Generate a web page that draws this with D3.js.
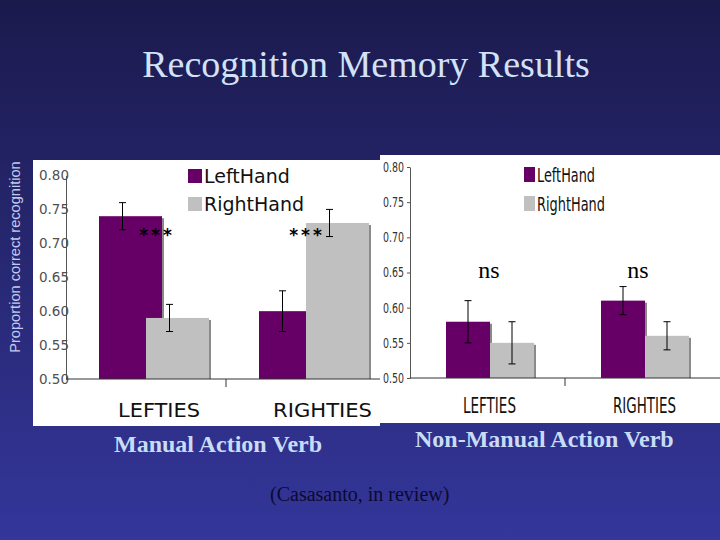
<!DOCTYPE html>
<html>
<head>
<meta charset="utf-8">
<script src="https://cdn.jsdelivr.net/npm/d3@7"></script>
<style>
  html, body { margin: 0; padding: 0; background: #1b1b4f; }
  svg { display: block; }
</style>
</head>
<body>
<script>
// data
const groups = ["LEFTIES", "RIGHTIES"];
const hands = ["LeftHand", "RightHand"];
const yTicks = [0.50, 0.55, 0.60, 0.65, 0.70, 0.75, 0.80];

// manual action verbs (left panel)
const manualLeftHand = [0.74, 0.60];
const manualRightHand = [0.59, 0.73];
const manualLeftErr = [0.02, 0.03];
const manualRightErr = [0.02, 0.02];
const manualMarks = ["***", "***"];

// non-manual action verbs (right panel)
const nonManualLeftHand = [0.58, 0.61];
const nonManualRightHand = [0.55, 0.56];
const nonManualLeftErr = [0.03, 0.02];
const nonManualRightErr = [0.03, 0.02];
const nonManualMarks = ["ns", "ns"];

const colors = { LeftHand: "#660066", RightHand: "#c0c0c0" };

const width = 720, height = 540;
const svg = d3.select("body").append("svg")
  .attr("width", width).attr("height", height);

const grad = svg.append("defs").append("linearGradient")
  .attr("id", "bg").attr("x1", 0).attr("y1", 0).attr("x2", 0).attr("y2", 1);
grad.append("stop").attr("offset", "0%").attr("stop-color", "#1b1a4d");
grad.append("stop").attr("offset", "100%").attr("stop-color", "#34369a");
svg.append("rect").attr("width", width).attr("height", height).attr("fill", "url(#bg)");

// title
svg.append("text")
  .attr("x", 366).attr("y", 77)
  .attr("text-anchor", "middle")
  .attr("font-family", "Liberation Serif, Times New Roman, serif")
  .attr("font-size", 38)
  .attr("fill", "#d2e2f8")
  .text("Recognition Memory Results");

// y label
svg.append("text")
  .attr("transform", "translate(20,257) rotate(-90)")
  .attr("text-anchor", "middle")
  .attr("font-family", "Liberation Sans, Arial, sans-serif")
  .attr("font-size", 14.6)
  .attr("fill", "#c4caf0")
  .text("Proportion correct recognition");

function rows(lh, rh, le, re) {
  return groups.flatMap((g, i) => [
    { group: g, hand: "LeftHand", value: lh[i], err: le[i] },
    { group: g, hand: "RightHand", value: rh[i], err: re[i] }
  ]);
}

function panel(opt) {
  const g = svg.append("g");
  g.append("rect")
    .attr("x", opt.box[0]).attr("y", opt.box[1])
    .attr("width", opt.box[2]).attr("height", opt.box[3])
    .attr("fill", "#ffffff");

  const y = d3.scaleLinear().domain([0.5, 0.8]).range(opt.yRange);
  const x = d3.scaleBand().domain(groups).range(opt.xRange);
  const sub = d3.scaleBand().domain(hands).range(opt.subRange);
  const data = rows(opt.lh, opt.rh, opt.le, opt.re);

  // shadow then bar
  g.selectAll(".shadow").data(data).join("rect")
    .attr("x", d => x(d.group) + sub(d.hand) + 2)
    .attr("y", d => y(d.value) + 2)
    .attr("width", opt.barW)
    .attr("height", d => y(0.5) - y(d.value) - 2)
    .attr("fill", "#8a8a8a");
  g.selectAll(".bar").data(data).join("rect")
    .attr("x", d => x(d.group) + sub(d.hand))
    .attr("y", d => y(d.value))
    .attr("width", opt.barW)
    .attr("height", d => y(0.5) - y(d.value))
    .attr("fill", d => colors[d.hand]);

  // error bars
  const ex = d => x(d.group) + sub(d.hand) + sub.bandwidth() / 2;
  const eb = g.selectAll(".err").data(data).join("g").attr("stroke", "#000").attr("stroke-width", 1);
  eb.append("line").attr("x1", ex).attr("x2", ex)
    .attr("y1", d => y(d.value - d.err)).attr("y2", d => y(d.value + d.err));
  eb.append("line").attr("x1", d => ex(d) - 3.5).attr("x2", d => ex(d) + 3.5)
    .attr("y1", d => y(d.value - d.err)).attr("y2", d => y(d.value - d.err));
  eb.append("line").attr("x1", d => ex(d) - 3.5).attr("x2", d => ex(d) + 3.5)
    .attr("y1", d => y(d.value + d.err)).attr("y2", d => y(d.value + d.err));

  // axes
  const yAxis = d3.axisLeft(y).tickValues(yTicks).tickFormat(d3.format(".2f"))
    .tickSize(opt.tickSize).tickSizeOuter(0).tickPadding(opt.tickPad);
  const ya = g.append("g").attr("transform", `translate(${opt.xRange[0]},0)`).call(yAxis);
  ya.selectAll("text")
    .attr("font-family", opt.tickFont)
    .attr("font-size", opt.tickFontSize)
    .attr("fill", opt.tickColor);
  if (opt.tickLen) ya.selectAll("text").attr("textLength", opt.tickLen).attr("lengthAdjust", "spacingAndGlyphs");
  ya.select(".domain").attr("stroke", "#555");
  ya.selectAll(".tick line").attr("stroke", "#555");

  g.append("line")
    .attr("x1", opt.xRange[0]).attr("x2", opt.box[0] + opt.box[2])
    .attr("y1", y(0.5)).attr("y2", y(0.5))
    .attr("stroke", "#333");
  g.append("line")
    .attr("x1", x(groups[1])).attr("x2", x(groups[1]))
    .attr("y1", y(0.5)).attr("y2", y(0.5) + 8)
    .attr("stroke", "#333");

  // category labels
  g.selectAll(".cat").data(groups).join("text")
    .attr("x", d => x(d) + opt.catDx[groups.indexOf(d)])
    .attr("y", opt.catY)
    .attr("font-family", opt.catFont)
    .attr("font-size", opt.catSize)
    .attr("fill", "#111")
    .attr("textLength", (d, i) => opt.catLen[i])
    .attr("lengthAdjust", "spacingAndGlyphs")
    .text(d => d);

  // legend
  const lg = g.append("g");
  hands.forEach((h, i) => {
    lg.append("rect")
      .attr("x", opt.legX).attr("y", opt.legY + i * opt.legStep)
      .attr("width", opt.legBox[0]).attr("height", opt.legBox[1])
      .attr("fill", colors[h]);
    const t = lg.append("text")
      .attr("x", opt.legX + opt.legBox[0] + 2)
      .attr("y", opt.legY + i * opt.legStep + opt.legBox[1])
      .attr("font-family", opt.legFont)
      .attr("font-size", opt.legSize)
      .attr("fill", "#111")
      .text(h);
    if (opt.legLen) t.attr("textLength", opt.legLen[i]).attr("lengthAdjust", "spacingAndGlyphs");
  });

  // significance marks
  g.selectAll(".mark").data(opt.marks).join("text")
    .attr("x", (d, i) => x(groups[i]) + opt.markDx[i])
    .attr("y", opt.markY)
    .attr("text-anchor", "middle")
    .attr("font-family", opt.markFont)
    .attr("font-size", opt.markSize)
    .attr("font-weight", opt.markWeight)
    .attr("letter-spacing", opt.markSpacing)
    .attr("fill", "#000")
    .text(d => d);
}

panel({
  box: [33, 160, 347, 266],
  yRange: [379, 175.5],
  xRange: [66, 386],
  subRange: [33, 127],
  barW: 63,
  lh: manualLeftHand, rh: manualRightHand, le: manualLeftErr, re: manualRightErr,
  tickSize: 0, tickPad: -3,
  tickFont: "DejaVu Sans, Verdana, sans-serif", tickFontSize: 13.5, tickColor: "#505050",
  catDx: [52, 47], catY: 417, catFont: "DejaVu Sans, Verdana, sans-serif", catSize: 19.5,
  catLen: [82, 99],
  legX: 188, legY: 169, legStep: 28, legBox: [14, 14],
  legFont: "DejaVu Sans, Verdana, sans-serif", legSize: 19,
  marks: manualMarks, markDx: [91, 81], markY: 241,
  markFont: "DejaVu Sans, sans-serif", markSize: 17, markWeight: "bold", markSpacing: 3
});

panel({
  box: [380, 155, 340, 268],
  yRange: [378, 167],
  xRange: [410, 720],
  subRange: [36, 124],
  barW: 44,
  lh: nonManualLeftHand, rh: nonManualRightHand, le: nonManualLeftErr, re: nonManualRightErr,
  tickSize: 3, tickPad: 3, tickLen: 21,
  tickFont: "DejaVu Sans Condensed, Liberation Sans Narrow, sans-serif", tickFontSize: 14, tickColor: "#333",
  catDx: [53, 48], catY: 413, catFont: "DejaVu Sans Condensed, Liberation Sans Narrow, sans-serif", catSize: 21,
  catLen: [53, 63],
  legX: 524, legY: 167, legStep: 29, legBox: [11, 15],
  legFont: "DejaVu Sans Condensed, Liberation Sans Narrow, sans-serif", legSize: 19,
  legLen: [58, 68],
  marks: nonManualMarks, markDx: [79, 73], markY: 278,
  markFont: "Liberation Serif, Times New Roman, serif", markSize: 24, markWeight: "normal", markSpacing: 0
});

// panel captions
const capFont = "Liberation Serif, Times New Roman, serif";
svg.append("text").attr("x", 114).attr("y", 452)
  .attr("font-family", capFont).attr("font-size", 24).attr("font-weight", "bold")
  .attr("fill", "#c8dcf6").text("Manual Action Verb");
svg.append("text").attr("x", 415).attr("y", 447)
  .attr("font-family", capFont).attr("font-size", 24).attr("font-weight", "bold")
  .attr("fill", "#c8dcf6").text("Non-Manual Action Verb");
svg.append("text").attr("x", 270).attr("y", 501)
  .attr("font-family", capFont).attr("font-size", 20)
  .attr("fill", "#0a0a30").text("(Casasanto, in review)");
</script>
</body>
</html>
